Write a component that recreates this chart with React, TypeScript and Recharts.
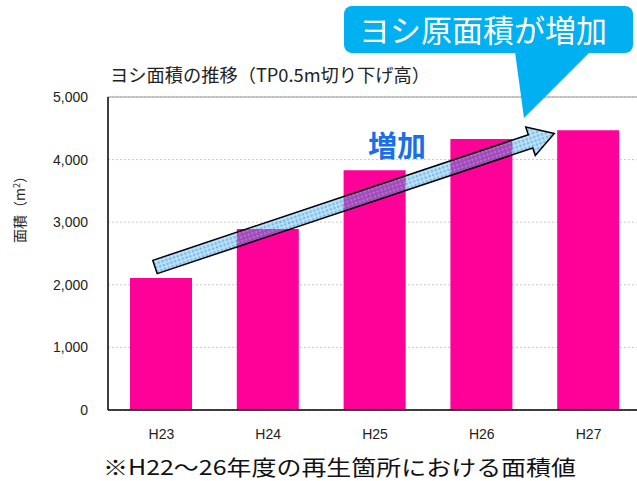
import React from "react";
import {
  BarChart,
  Bar,
  XAxis,
  YAxis,
  CartesianGrid,
  ReferenceLine,
} from "recharts";

const years = ["H23", "H24", "H25", "H26", "H27"];
const areaValues = [2110, 2890, 3830, 4330, 4470];
const yTicks = [0, 1000, 2000, 3000, 4000, 5000];

const chartData = years.map((year, i) => ({ year, area: areaValues[i] }));

const JP = "'Noto Sans CJK JP', 'Noto Sans', sans-serif";
const NUM = "'Liberation Sans', Arial, sans-serif";

// arrow, callout and texts drawn over the chart
const Overlay = () => {
  const L = 421;
  return (
    <svg
      width={637}
      height={481}
      style={{ position: "absolute", left: 0, top: 0, pointerEvents: "none" }}
    >
      <defs>
        <pattern id="dots" width="4" height="4" patternUnits="userSpaceOnUse">
          <rect width="4" height="4" fill="#40a8e8" fillOpacity={0.42} />
          <rect width="2" height="2" fill="#1f7fd0" fillOpacity={0.35} />
          <rect x="2" y="2" width="2" height="2" fill="#ffffff" fillOpacity={0.2} />
        </pattern>
      </defs>
      <polygon
        transform="translate(155,267) rotate(-18.5)"
        points={`0,-7 ${L - 25},-7 ${L - 25},-15 ${L},0 ${L - 25},15 ${L - 25},7 0,7`}
        fill="url(#dots)"
        stroke="#000"
        strokeWidth={1.5}
      />
      <text
        x={397}
        y={157}
        textAnchor="middle"
        fontFamily={JP}
        fontWeight="bold"
        fontSize={29}
        fill="#1a6fe8"
      >
        増加
      </text>

      <rect x={344} y={6} width={289} height={47} rx={8} fill="#00b0f0" />
      <polygon points="515,52 590,52 524,118" fill="#00b0f0" />
      <text
        x={483}
        y={42}
        textAnchor="middle"
        fontFamily={JP}
        fontSize={31}
        fill="#fff"
      >
        ヨシ原面積が増加
      </text>

      <text
        x={110}
        y={82}
        fontFamily={JP}
        fontSize={18}
        fill="#222"
        textLength={320}
        lengthAdjust="spacingAndGlyphs"
      >
        ヨシ面積の推移（TP0.5m切り下げ高）
      </text>

      <text
        transform="rotate(-90, 20, 206)"
        x={20}
        y={211}
        textAnchor="middle"
        fontFamily={JP}
        fontSize={14}
        fill="#222"
      >
        面積（m
        <tspan dy={-5} fontSize={9}>
          2
        </tspan>
        <tspan dy={5}>）</tspan>
      </text>

      <text
        x={103}
        y={475}
        fontFamily={JP}
        fontSize={21}
        fill="#111"
        textLength={473}
        lengthAdjust="spacingAndGlyphs"
      >
        ※H22～26年度の再生箇所における面積値
      </text>
    </svg>
  );
};

export default function App() {
  return (
    <div
      style={{
        position: "absolute",
        left: 0,
        top: 0,
        width: 637,
        height: 481,
        overflow: "hidden",
        background: "#fff",
      }}
    >
      <BarChart
        width={646}
        height={481}
        data={chartData}
        margin={{ top: 97, right: 4, bottom: 41, left: 0 }}
      >
        <CartesianGrid
          vertical={false}
          stroke="#c8c8c8"
          strokeDasharray="2 2"
        />
        <ReferenceLine y={5000} stroke="#999" />
        <XAxis
          dataKey="year"
          height={30}
          tickLine={false}
          axisLine={{ stroke: "#000", strokeWidth: 1.5 }}
          tick={{ fontFamily: NUM, fontSize: 14, fill: "#222" }}
          tickMargin={13}
        />
        <YAxis
          width={108}
          domain={[0, 5000]}
          ticks={yTicks}
          tickLine={false}
          tickSize={0}
          tickMargin={20}
          axisLine={{ stroke: "#000", strokeWidth: 1.5 }}
          tickFormatter={(v: number) => v.toLocaleString("en-US")}
          tick={{ fontFamily: NUM, fontSize: 14, fill: "#222" }}
        />
        <Bar dataKey="area" fill="#ff0099" barSize={62} isAnimationActive={false} />
      </BarChart>
      <Overlay />
    </div>
  );
}
